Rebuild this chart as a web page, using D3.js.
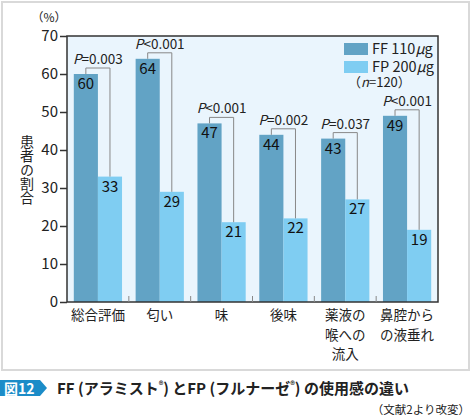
<!DOCTYPE html>
<html lang="ja">
<head>
<meta charset="UTF-8">
<title>図12</title>
<script src="https://cdnjs.cloudflare.com/ajax/libs/d3/7.8.5/d3.min.js"></script>
<style>
  body { margin: 0; background: #fff; }
  text { font-family: "Noto Sans CJK JP", "Noto Sans", sans-serif; }
</style>
</head>
<body>
<div id="chart"></div>
<script>
// data
var categories = [["総合評価"], ["匂い"], ["味"], ["後味"], ["薬液の", "喉への", "流入"], ["鼻腔から", "の液垂れ"]];
var ffValues = [60, 64, 47, 44, 43, 49];
var fpValues = [33, 29, 21, 22, 27, 19];
var pLabels = [["=", "0.003"], ["<", "0.001"], ["<", "0.001"], ["=", "0.002"], ["=", "0.037"], ["<", "0.001"]];
var yTicks = [0, 10, 20, 30, 40, 50, 60, 70];
var seriesNames = ["FF 110", "FP 200"];

var W = 472, H = 420;
var m = {left: 67, top: 36, right: 438, bottom: 302};
var colFF = "#62a3c5", colFP = "#7fcdf2";

var svg = d3.select("#chart").append("svg")
  .attr("width", W).attr("height", H);

// outer frame
svg.append("rect").attr("x", 2).attr("y", 2).attr("width", 467).attr("height", 368)
  .attr("fill", "#fff").attr("stroke", "#d9d9d9").attr("stroke-width", 2);

var x = d3.scaleBand().domain(d3.range(categories.length))
  .range([m.left, m.right]).paddingInner(0.22).paddingOuter(0.11);
var xs = d3.scaleBand().domain([0, 1]).range([0, x.bandwidth()]);
var y = d3.scaleLinear().domain([0, 70]).range([m.bottom, m.top]);

// plot background
svg.append("rect").attr("x", m.left).attr("y", m.top)
  .attr("width", m.right - m.left).attr("height", m.bottom - m.top)
  .attr("fill", "#eaf5fd");

// bars
var groups = svg.selectAll(".grp").data(categories).enter().append("g")
  .attr("transform", function(d, i) { return "translate(" + x(i) + ",0)"; });

groups.append("rect")
  .attr("x", xs(0)).attr("width", xs.bandwidth())
  .attr("y", function(d, i) { return y(ffValues[i]); })
  .attr("height", function(d, i) { return y(0) - y(ffValues[i]); })
  .attr("fill", colFF);
groups.append("rect")
  .attr("x", xs(1)).attr("width", xs.bandwidth())
  .attr("y", function(d, i) { return y(fpValues[i]); })
  .attr("height", function(d, i) { return y(0) - y(fpValues[i]); })
  .attr("fill", colFP);

// value labels inside bars
groups.append("text")
  .attr("x", xs(0) + xs.bandwidth() / 2)
  .attr("y", function(d, i) { return y(ffValues[i]) + 15; })
  .attr("text-anchor", "middle").attr("font-size", 15).attr("fill", "#111")
  .text(function(d, i) { return ffValues[i]; });
groups.append("text")
  .attr("x", xs(1) + xs.bandwidth() / 2)
  .attr("y", function(d, i) { return y(fpValues[i]) + 15; })
  .attr("text-anchor", "middle").attr("font-size", 15).attr("fill", "#111")
  .text(function(d, i) { return fpValues[i]; });

// significance brackets
groups.append("path")
  .attr("fill", "none").attr("stroke", "#888").attr("stroke-width", 1)
  .attr("d", function(d, i) {
    var x1 = xs(0) + xs.bandwidth() / 2, x2 = xs(1) + xs.bandwidth() / 2;
    var top = y(ffValues[i]) - 6;
    return "M" + x1 + "," + y(ffValues[i]) + "V" + top + "H" + x2 + "V" + y(fpValues[i]);
  });
groups.append("text")
  .attr("x", x.bandwidth() / 2)
  .attr("y", function(d, i) { return y(ffValues[i]) - 10; })
  .attr("text-anchor", "middle").attr("font-size", 13.5).attr("fill", "#222")
  .html(function(d, i) { return '<tspan font-style="italic">P</tspan>' + (pLabels[i][0] == "<" ? "&lt;" : "=") + pLabels[i][1]; });

// plot frame
svg.append("rect").attr("x", m.left).attr("y", m.top)
  .attr("width", m.right - m.left).attr("height", m.bottom - m.top)
  .attr("fill", "none").attr("stroke", "#333").attr("stroke-width", 1.5);

// separators between groups on the baseline
svg.selectAll(".sep").data(d3.range(1, categories.length)).enter().append("line")
  .attr("x1", function(d) { return x(d) - x.step() * x.paddingInner() / 2; })
  .attr("x2", function(d) { return x(d) - x.step() * x.paddingInner() / 2; })
  .attr("y1", m.bottom).attr("y2", m.bottom - 6)
  .attr("stroke", "#888").attr("stroke-width", 1);

// y axis
var yAxis = svg.append("g").attr("transform", "translate(" + m.left + ",0)")
  .call(d3.axisLeft(y).tickValues(yTicks).tickSize(7).tickPadding(2));
yAxis.select(".domain").remove();
yAxis.selectAll("line").attr("stroke", "#333").attr("stroke-width", 1.5);
yAxis.selectAll("text").attr("font-size", 15).attr("fill", "#222")
  .attr("font-family", "'Noto Sans CJK JP', sans-serif");

svg.append("text").attr("x", 49).attr("y", 22).attr("text-anchor", "middle")
  .attr("font-size", 12).attr("fill", "#222").text("（%）");

// y title, vertical writing
svg.append("text").attr("x", 27).attr("y", 170)
  .attr("text-anchor", "middle").attr("font-size", 14).attr("fill", "#222")
  .style("writing-mode", "vertical-rl").style("text-orientation", "upright")
  .text("患者の割合");

// category labels
groups.each(function(d, i) {
  var g = d3.select(this);
  d.forEach(function(line, k) {
    g.append("text").attr("x", x.bandwidth() / 2).attr("y", m.bottom + 18 + k * 19.5)
      .attr("text-anchor", "middle").attr("font-size", 13.5).attr("fill", "#222")
      .text(line);
  });
});

// legend
var leg = svg.append("g");
[colFF, colFP].forEach(function(c, i) {
  leg.append("rect").attr("x", 344).attr("y", 43 + i * 18).attr("width", 24).attr("height", 12).attr("fill", c);
  leg.append("text").attr("x", 372).attr("y", 54 + i * 18)
    .attr("font-size", 14.5).attr("fill", "#222")
    .html(seriesNames[i] + '<tspan font-style="italic">μ</tspan>g');
});
leg.append("text").attr("x", 348).attr("y", 87).attr("font-size", 13).attr("fill", "#222")
  .html('（<tspan font-style="italic">n</tspan>=120）');

// caption
svg.append("path").attr("d", "M0,380H40L47,388L40,396H0Z").attr("fill", "#1b8cc8");
svg.append("text").attr("x", 4).attr("y", 393.5).attr("font-size", 14).attr("font-weight", "bold")
  .attr("fill", "#fff").text("図12");
svg.append("text").attr("x", 57).attr("y", 394).attr("font-size", 15)
  .attr("font-weight", "bold").attr("fill", "#222")
  .html('FF (アラミスト<tspan font-size="9" dy="-5">®</tspan><tspan dy="5">) とFP (フルナーゼ</tspan>'
      + '<tspan font-size="9" dy="-5">®</tspan><tspan dy="5">) の使用感の違い</tspan>');

svg.append("text").attr("x", 470).attr("y", 414).attr("text-anchor", "end")
  .attr("font-size", 11.5).attr("fill", "#222").text("（文献2より改変）");
</script>
</body>
</html>
